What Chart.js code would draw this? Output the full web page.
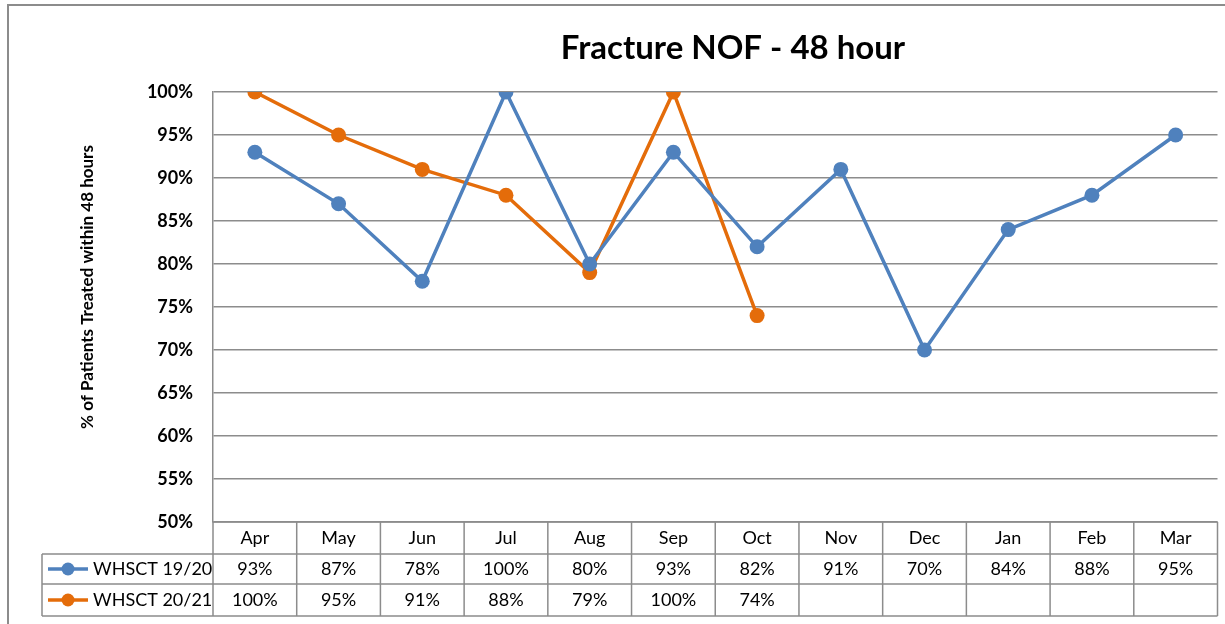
<!DOCTYPE html>
<html>
<head>
<meta charset="utf-8">
<script src="https://cdn.jsdelivr.net/npm/chart.js@4.4.0/dist/chart.umd.min.js"></script>
<style>
  html, body { margin: 0; padding: 0; background: #fff; }
  canvas { display: block; }
</style>
</head>
<body>
<canvas id="nofChart" width="1225" height="624"></canvas>
<script>
// dados
const months = ['Apr', 'May', 'Jun', 'Jul', 'Aug', 'Sep', 'Oct', 'Nov', 'Dec', 'Jan', 'Feb', 'Mar'];
const whsct1920 = [93, 87, 78, 100, 80, 93, 82, 91, 70, 84, 88, 95];
const whsct2021 = [100, 95, 91, 88, 79, 100, 74, null, null, null, null, null];
const seriesNames = ['WHSCT 19/20', 'WHSCT 20/21'];
const seriesColors = ['#4F81BD', '#E46C0A'];
const yMin = 50, yMax = 100, yStep = 5;
const chartTitle = 'Fracture NOF - 48 hour';
const yTitle = '% of Patients Treated within 48 hours';

Chart.defaults.font.family = 'Lato';
Chart.defaults.color = '#000';

const gridGrey = '#8c8c8c';

// moldura, títulos e tabela de dados
const tablePlugin = {
    id: 'dataTable',
    beforeDraw(chart) {
        const ctx = chart.ctx;
        ctx.save();
        ctx.strokeStyle = gridGrey;
        ctx.lineWidth = 2;
        ctx.beginPath();
        ctx.moveTo(8, chart.height + 2);
        ctx.lineTo(8, 5);
        ctx.lineTo(chart.width + 2, 5);
        ctx.stroke();
        ctx.restore();
    },
    afterDraw(chart) {
        const ctx = chart.ctx;
        const area = chart.chartArea;
        const xs = chart.scales.x;
        const colW = (area.right - area.left) / months.length;
        const legendLeft = 42;
        const rows = [area.bottom, area.bottom + 32, area.bottom + 62, area.bottom + 94];

        ctx.save();
        ctx.fillStyle = '#000';
        ctx.textAlign = 'center';
        ctx.textBaseline = 'middle';
        // título do gráfico
        ctx.font = 'bold 33px Lato';
        ctx.fillText(chartTitle, 733, 48);
        // título do eixo y
        ctx.font = 'bold 17px Lato';
        ctx.translate(88, 287);
        ctx.rotate(-Math.PI / 2);
        ctx.fillText(yTitle, 0, 0);
        ctx.restore();

        ctx.save();
        ctx.strokeStyle = gridGrey;
        ctx.lineWidth = 1.5;
        ctx.beginPath();
        // linhas horizontais
        ctx.moveTo(area.left, rows[0]); ctx.lineTo(area.right, rows[0]);
        for (let r = 1; r < rows.length; r++) {
            ctx.moveTo(legendLeft, rows[r]); ctx.lineTo(area.right, rows[r]);
        }
        // linhas verticais
        ctx.moveTo(legendLeft, rows[1]); ctx.lineTo(legendLeft, rows[3]);
        for (let i = 0; i <= months.length; i++) {
            const x = area.left + i * colW;
            ctx.moveTo(x, rows[0]); ctx.lineTo(x, rows[3]);
        }
        ctx.stroke();

        ctx.font = '18px Lato';
        ctx.fillStyle = '#000';
        ctx.textAlign = 'center';
        ctx.textBaseline = 'middle';
        months.forEach((m, i) => {
            const cx = xs.getPixelForValue(i);
            ctx.fillText(m, cx, (rows[0] + rows[1]) / 2);
        });
        [whsct1920, whsct2021].forEach((vals, s) => {
            const cy = (rows[s + 1] + rows[s + 2]) / 2;
            vals.forEach((v, i) => {
                if (v === null) return;
                ctx.fillText(v + '%', xs.getPixelForValue(i), cy);
            });
            // chave da legenda
            ctx.strokeStyle = seriesColors[s];
            ctx.fillStyle = seriesColors[s];
            ctx.lineWidth = 3.5;
            ctx.beginPath();
            ctx.moveTo(48, cy); ctx.lineTo(88, cy);
            ctx.stroke();
            ctx.beginPath();
            ctx.arc(68, cy, 6.5, 0, Math.PI * 2);
            ctx.fill();
            ctx.fillStyle = '#000';
            ctx.textAlign = 'left';
            ctx.fillText(seriesNames[s], 93, cy);
            ctx.textAlign = 'center';
        });
        ctx.restore();
    }
};

new Chart(document.getElementById('nofChart'), {
    type: 'line',
    data: {
        labels: months,
        datasets: [whsct1920, whsct2021].map((vals, s) => ({
            label: seriesNames[s],
            data: vals,
            borderColor: seriesColors[s],
            backgroundColor: seriesColors[s],
            borderWidth: 3.5,
            pointRadius: 7.5,
            pointHoverRadius: 7.5,
            pointBorderWidth: 0,
            tension: 0,
            spanGaps: false
        }))
    },
    options: {
        responsive: false,
        animation: false,
        devicePixelRatio: 1,
        layout: { padding: { left: 0, right: 6, top: 92, bottom: 8 } },
        plugins: {
            legend: { display: false },
            tooltip: { enabled: false },
            title: { display: false }
        },
        scales: {
            x: {
                offset: true,
                grid: { display: false },
                border: { display: false },
                ticks: { display: false },
                afterFit: s => { s.height = 94; }
            },
            y: {
                min: yMin,
                max: yMax,
                ticks: {
                    stepSize: yStep,
                    padding: 20,
                    font: { size: 18, weight: 'bold' },
                    callback: v => v + '%'
                },
                grid: { color: gridGrey, lineWidth: 1.5, drawTicks: false },
                border: { color: gridGrey, width: 1.5 },
                afterFit: s => { s.width = 213; }
            }
        }
    },
    plugins: [tablePlugin]
});
</script>
</body>
</html>
